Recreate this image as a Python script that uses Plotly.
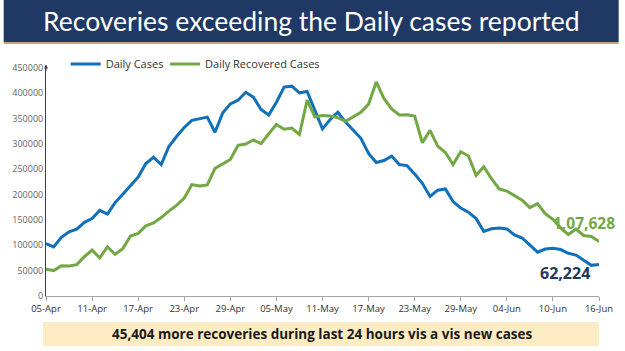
import pandas as pd
import plotly.graph_objects as go

dates = pd.date_range("2021-04-05", "2021-06-16", freq="D")

daily_cases = [
    103558, 96982, 115736, 126789, 131968, 145384, 152879, 168912, 161736, 184372,
    200739, 217353, 234692, 261500, 273810, 259170, 295041, 314835, 332730, 346786,
    349691, 352991, 323144, 360960, 379257, 386452, 401993, 392488, 368147, 357229,
    382315, 412262, 414188, 401078, 403738, 366161, 329942, 348421, 362727, 343144,
    326098, 311170, 281386, 263533, 267334, 276110, 259551, 257299, 240842, 222315,
    196427, 208921, 211298, 186364, 173790, 165553, 152734, 127510, 132788, 134154,
    132364, 120529, 114460, 100636, 86498, 92596, 94052, 91702, 84332, 80834,
    70421, 60471, 62224,
]

daily_recovered = [
    52847, 50143, 59856, 59258, 61899, 77567, 90584, 75086, 97168, 82339,
    93528, 118302, 123354, 138423, 144178, 154761, 167457, 178841, 193279, 219838,
    217113, 219272, 251827, 261162, 269507, 297540, 299988, 307865, 300732, 320289,
    338439, 329113, 331507, 318609, 386444, 353818, 356082, 355338, 352181, 344776,
    353299, 362437, 378741, 422436, 389851, 369077, 357295, 357630, 355102, 302544,
    326850, 295955, 283135, 259459, 284601, 276309, 238022, 255287, 231456, 211499,
    207071, 197894, 189232, 174399, 182282, 162664, 151367, 134580, 121311, 132062,
    119501, 117525, 107628,
]

tick_dates = pd.date_range("2021-04-05", "2021-06-16", freq="6D")
tick_labels = [d.strftime("%d-%b") for d in tick_dates]
y_ticks = list(range(0, 450001, 50000))

title_text = "Recoveries exceeding the Daily cases reported"
footer_text = "45,404 more recoveries during last 24 hours vis a vis new cases"
last_recovered_label = "1,07,628"
last_cases_label = "62,224"

BLUE = "#1170BA"
GREEN = "#72A844"
NAVY = "#1F3864"

fig = go.Figure()
fig.add_trace(go.Scatter(x=dates, y=daily_cases, mode="lines", name="Daily Cases",
                         line=dict(color=BLUE, width=3), legend="legend"))
fig.add_trace(go.Scatter(x=dates, y=daily_recovered, mode="lines", name="Daily Recovered Cases",
                         line=dict(color=GREEN, width=3), legend="legend2"))

W, H = 625, 351
L, R, T, B = 43, 20, 68, 55
pw, ph = W - L - R, H - T - B


def px_x(x):
    return (x - L) / pw


def px_y(y):
    return (H - B - y) / ph


shapes = [
    # title banner
    dict(type="rect", xref="paper", yref="paper", x0=px_x(0), x1=px_x(W), y0=px_y(42), y1=px_y(0),
         fillcolor="#1F3864", line=dict(width=0), layer="below"),
    dict(type="rect", xref="paper", yref="paper", x0=px_x(0), x1=px_x(W), y0=px_y(44), y1=px_y(42),
         fillcolor="#C9A27A", line=dict(width=0), layer="below"),
    # footer box
    dict(type="rect", xref="paper", yref="paper", x0=px_x(40), x1=px_x(605), y0=px_y(346), y1=px_y(322),
         fillcolor="#FDEBC4", line=dict(width=0), layer="below"),
]

annotations = [
    dict(text=title_text, xref="paper", yref="paper", x=px_x(313), y=px_y(21), showarrow=False,
         font=dict(family="Lato", size=26.5, color="white"), xanchor="center", yanchor="middle"),
    dict(text="<b>" + footer_text + "</b>", xref="paper", yref="paper", x=px_x(323), y=px_y(334),
         showarrow=False, font=dict(family="Open Sans", size=13.5, color="#1A1A1A"),
         xanchor="center", yanchor="middle"),
    dict(text="<b>" + last_recovered_label + "</b>", x=dates[-1], y=daily_recovered[-1],
         xref="x", yref="y", showarrow=False, xanchor="right", yanchor="bottom",
         xshift=18, yshift=5, font=dict(family="Open Sans", size=15.5, color=GREEN)),
    dict(text="<b>" + last_cases_label + "</b>", x=dates[-1], y=daily_cases[-1],
         xref="x", yref="y", showarrow=False, xanchor="right", yanchor="middle",
         xshift=-7, yshift=-9, font=dict(family="Open Sans", size=16, color=NAVY)),
    # small arrow at the top of the y axis
    dict(text="", xref="paper", yref="paper", x=0, y=1.015, ax=0, ay=8, showarrow=True,
         arrowhead=2, arrowsize=0.8, arrowwidth=1, arrowcolor="#404040"),
]

legend_common = dict(orientation="h", yanchor="middle", xanchor="left",
                     font=dict(family="Open Sans", size=11, color="#333333"),
                     bgcolor="rgba(0,0,0,0)", itemwidth=30)

fig.update_layout(
    width=W, height=H,
    margin=dict(l=L, r=R, t=T, b=B),
    paper_bgcolor="white", plot_bgcolor="white",
    shapes=shapes, annotations=annotations,
    showlegend=True,
    legend=dict(x=px_x(63), y=px_y(64), **legend_common),
    legend2=dict(x=px_x(164), y=px_y(64), **legend_common),
    font=dict(family="Open Sans"),
)

fig.update_xaxes(
    range=[dates[0], dates[-1]], tickvals=tick_dates, ticktext=tick_labels,
    showgrid=False, showline=True, linecolor="#A6A6A6", linewidth=1,
    ticks="outside", ticklen=4, tickcolor="#A6A6A6",
    tickfont=dict(family="Open Sans", size=9.5, color="#333333"),
    zeroline=False,
)
fig.update_yaxes(
    range=[0, 450000], tickvals=y_ticks, ticktext=[str(v) for v in y_ticks],
    showgrid=False, showline=True, linecolor="#404040", linewidth=1,
    ticks="", tickfont=dict(family="Open Sans", size=9, color="#666666"),
    zeroline=False,
)

fig.write_html("out.html")
